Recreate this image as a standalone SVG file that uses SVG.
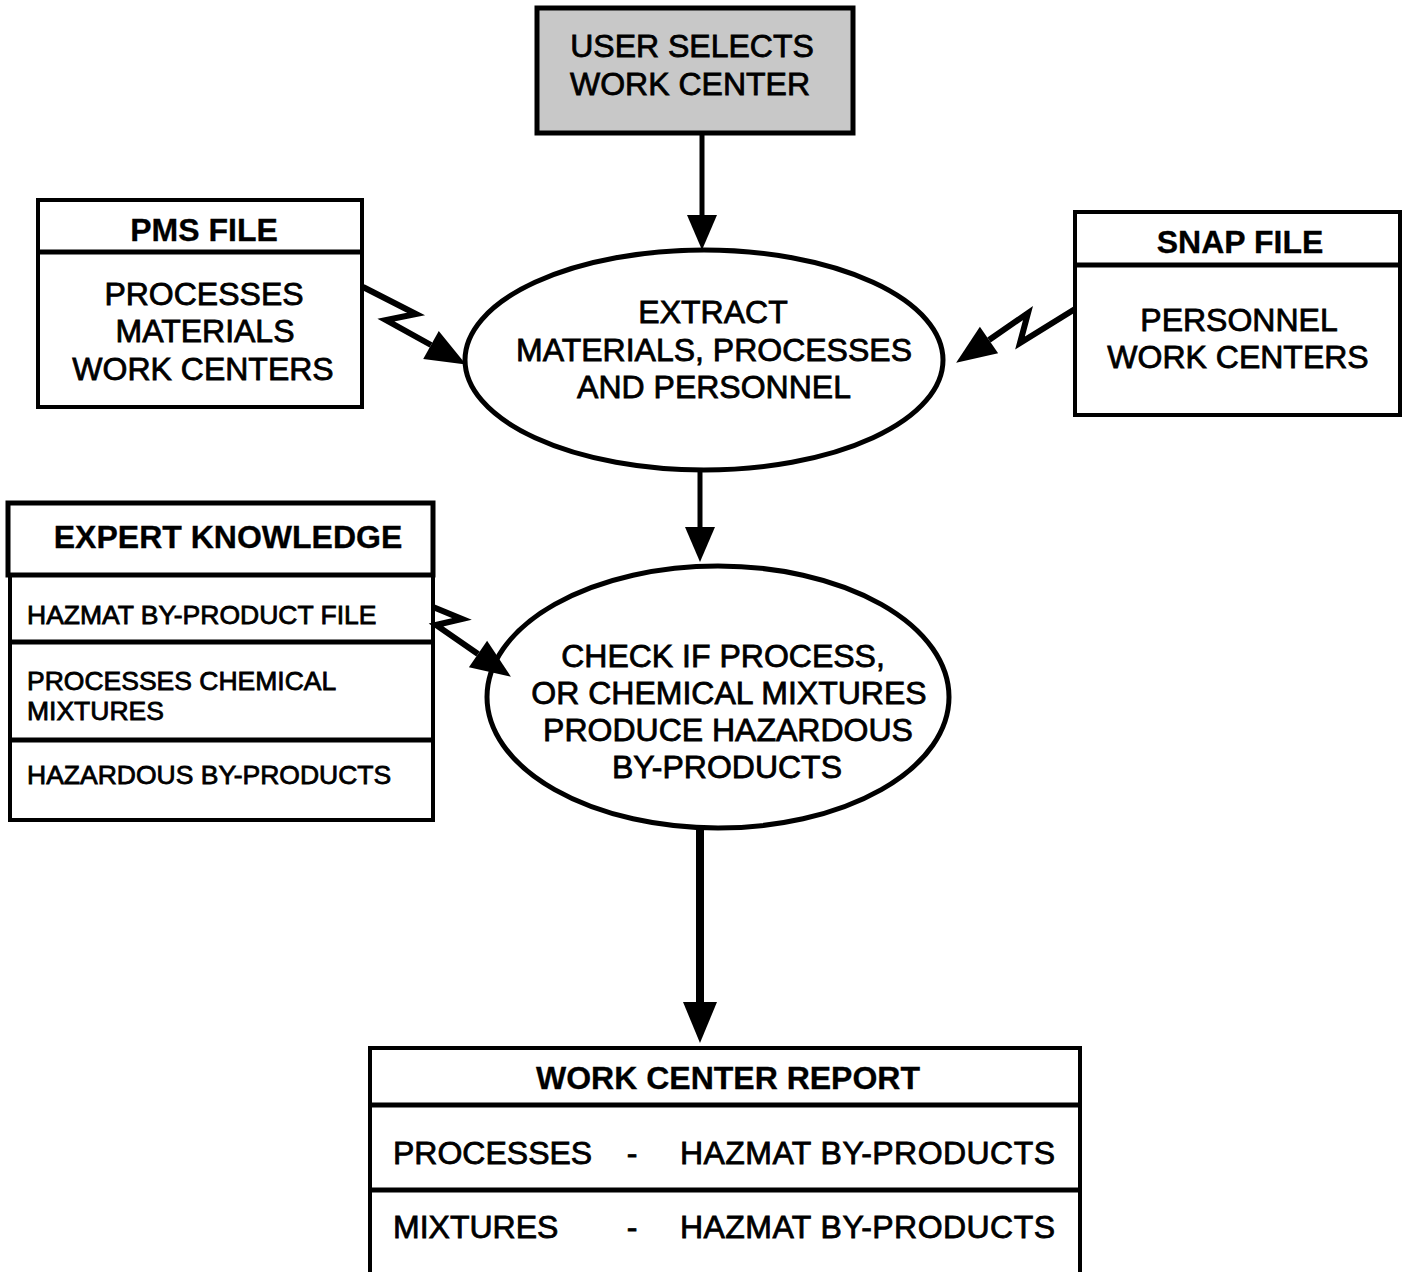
<svg xmlns="http://www.w3.org/2000/svg" width="1408" height="1272" viewBox="0 0 1408 1272">
<style>
  .box { fill: #ffffff; stroke: #000; stroke-width: 4; }
  .thick { fill: none; stroke: #000; stroke-width: 5; }
  .ell { fill: #ffffff; stroke: #000; stroke-width: 5; }
  .t { font-family: "Liberation Sans", Arial, Helvetica, sans-serif; font-size: 32px; fill: #000; stroke: #000; stroke-width: 0.8; }
  .c { text-anchor: middle; }
  .b { font-weight: bold; stroke-width: 0.3; }
  .s { font-size: 26.5px; }
  .ln { fill: none; stroke: #000; stroke-width: 5; }
  .ln8 { fill: none; stroke: #000; stroke-width: 8; }
  .bolt { fill: none; stroke: #000; stroke-width: 6; stroke-linejoin: miter; }
</style>
<defs>
  <marker id="hA" markerUnits="userSpaceOnUse" markerWidth="36" markerHeight="30" refX="0" refY="15" orient="auto" overflow="visible">
    <path d="M0,0 L35,15 L0,30 z" fill="#000"/>
  </marker>
  <marker id="hB" markerUnits="userSpaceOnUse" markerWidth="42" markerHeight="34" refX="0" refY="17" orient="auto" overflow="visible">
    <path d="M0,0 L41,17 L0,34 z" fill="#000"/>
  </marker>
  <marker id="hC" markerUnits="userSpaceOnUse" markerWidth="42" markerHeight="32" refX="0" refY="16" orient="auto" overflow="visible">
    <path d="M0,0 L40,16 L0,32 z" fill="#000"/>
  </marker>
</defs>
<rect width="1408" height="1272" fill="#ffffff"/>

<g id="user-selects">
  <rect x="537" y="8" width="316" height="125" fill="#c8c8c8" stroke="#000" stroke-width="5"/>
  <text class="t c" x="692" y="57">USER SELECTS</text>
  <text class="t c" x="690" y="95">WORK CENTER</text>
</g>

<g id="pms-file">
  <rect class="box" x="38" y="200" width="324" height="207"/>
  <line class="thick" x1="38" y1="252" x2="362" y2="252"/>
  <text class="t c b" x="204" y="241">PMS FILE</text>
  <text class="t c" x="204" y="305">PROCESSES</text>
  <text class="t c" x="205" y="342">MATERIALS</text>
  <text class="t c" x="203" y="380">WORK CENTERS</text>
</g>

<g id="snap-file">
  <rect class="box" x="1075" y="212" width="325" height="203"/>
  <line class="thick" x1="1075" y1="265" x2="1400" y2="265"/>
  <text class="t c b" x="1240" y="253">SNAP FILE</text>
  <text class="t c" x="1239" y="331">PERSONNEL</text>
  <text class="t c" x="1238" y="368">WORK CENTERS</text>
</g>

<g id="extract">
  <ellipse class="ell" cx="704" cy="360" rx="239" ry="110"/>
  <text class="t c" x="713" y="323">EXTRACT</text>
  <text class="t c" x="714" y="361">MATERIALS, PROCESSES</text>
  <text class="t c" x="714" y="398">AND PERSONNEL</text>
</g>

<g id="expert-knowledge">
  <rect class="box" x="10" y="575" width="423" height="245"/>
  <rect x="8" y="503" width="425" height="72" fill="#fff" stroke="#000" stroke-width="5"/>
  <line class="thick" x1="10" y1="642" x2="433" y2="642"/>
  <line class="thick" x1="10" y1="740" x2="433" y2="740"/>
  <text class="t c b" x="228" y="548">EXPERT KNOWLEDGE</text>
  <text class="t s" x="27" y="624">HAZMAT BY-PRODUCT FILE</text>
  <text class="t s" x="27" y="690">PROCESSES CHEMICAL</text>
  <text class="t s" x="27" y="720">MIXTURES</text>
  <text class="t s" x="27" y="784">HAZARDOUS BY-PRODUCTS</text>
</g>

<g id="check">
  <ellipse class="ell" cx="718" cy="697" rx="231" ry="131"/>
  <text class="t c" x="723" y="667">CHECK IF PROCESS,</text>
  <text class="t c" x="729" y="704">OR CHEMICAL MIXTURES</text>
  <text class="t c" x="728" y="741">PRODUCE HAZARDOUS</text>
  <text class="t c" x="727" y="778">BY-PRODUCTS</text>
</g>

<g id="work-center-report">
  <path class="box" d="M370,1275 V1048 H1080 V1275"/>
  <line class="thick" x1="370" y1="1105" x2="1080" y2="1105"/>
  <line class="thick" x1="370" y1="1190" x2="1080" y2="1190"/>
  <text class="t c b" x="728" y="1089">WORK CENTER REPORT</text>
  <text class="t" x="393" y="1164">PROCESSES</text>
  <text class="t c" x="632" y="1164">-</text>
  <text class="t" x="680" y="1164" textLength="375">HAZMAT BY-PRODUCTS</text>
  <text class="t" x="393" y="1238">MIXTURES</text>
  <text class="t c" x="632" y="1238">-</text>
  <text class="t" x="680" y="1238" textLength="375">HAZMAT BY-PRODUCTS</text>
</g>

<g id="connectors">
  <path class="ln" d="M702,133 V215" marker-end="url(#hA)"/>
  <path class="ln" d="M700,470 V527" marker-end="url(#hA)"/>
  <path class="ln8" d="M700,828 V1002" marker-end="url(#hB)"/>
  <path class="bolt" d="M363,287 L416,314 L386,320 L431,345" marker-end="url(#hC)"/>
  <path class="bolt" d="M1075,309 L1020,343 L1028,313 L989,340" marker-end="url(#hC)"/>
  <path class="bolt" d="M433,607 L462,619 L436,625 L478,654" marker-end="url(#hC)"/>
</g>
</svg>
